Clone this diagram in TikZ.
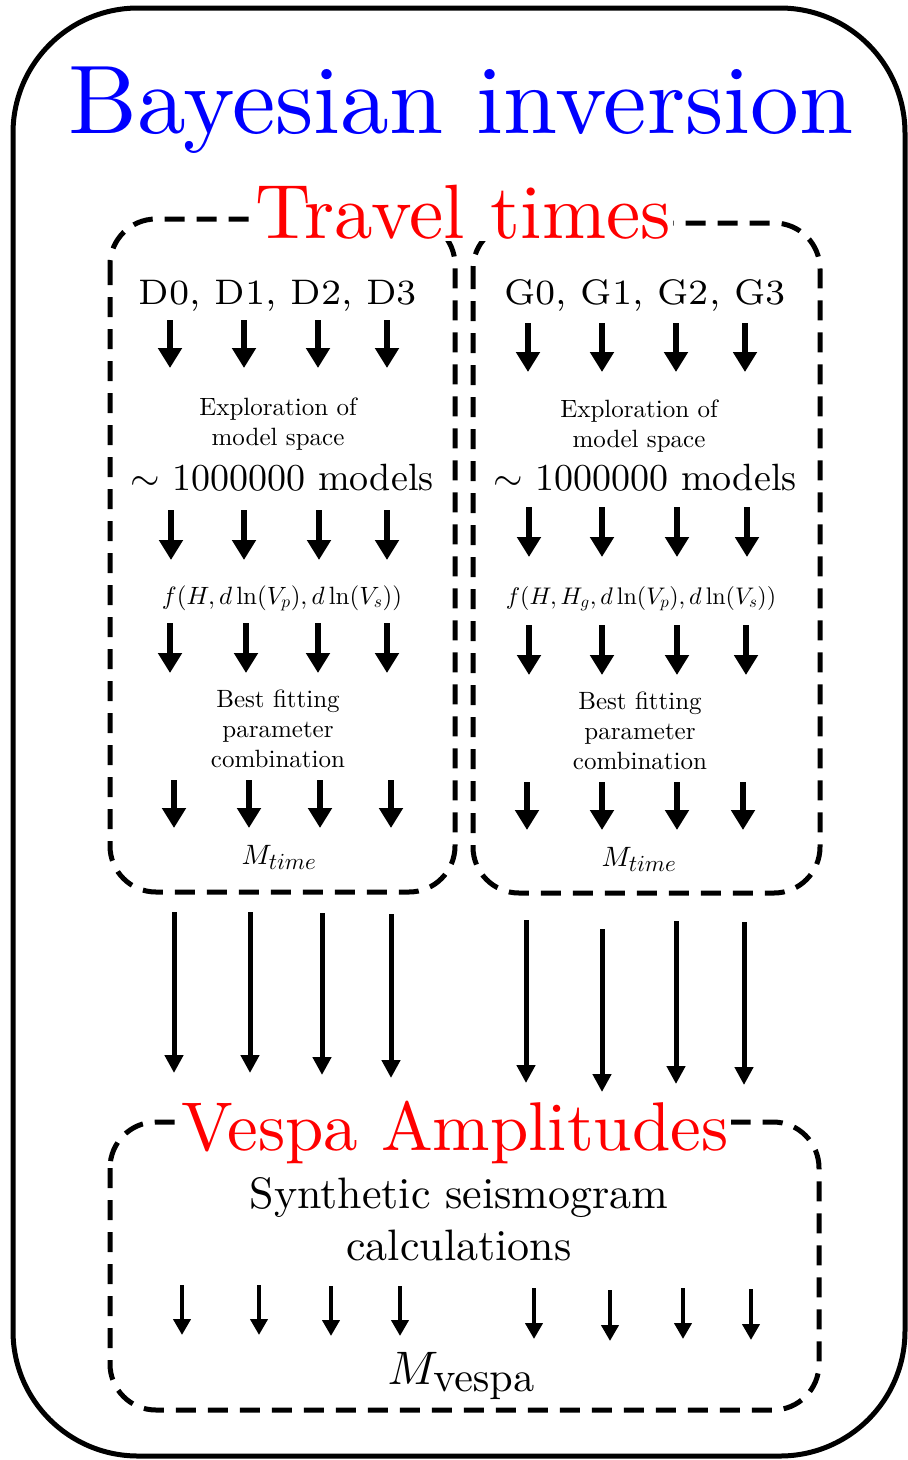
\documentclass[tikz,border=0pt]{standalone}
\usetikzlibrary{arrows.meta}
\DeclareFontFamily{TU}{lmten}{}
\DeclareFontShape{TU}{lmten}{m}{n}{<-> \UnicodeFontFile{lmroman10-regular}{\UnicodeFontTeXLigatures}}{}
\DeclareFontShape{TU}{lmten}{m}{it}{<-> \UnicodeFontFile{lmroman10-italic}{\UnicodeFontTeXLigatures}}{}
\DeclareFontFamily{TU}{lmseven}{}
\DeclareFontShape{TU}{lmseven}{m}{n}{<-> \UnicodeFontFile{lmroman7-regular}{\UnicodeFontTeXLigatures}}{}
\renewcommand\rmdefault{lmten}
\DeclareFontShape{OML}{cmm}{m}{it}{<-> cmmi10}{}
\DeclareFontShape{OMS}{cmsy}{m}{n}{<-> cmsy10}{}
\DeclareFontShape{OT1}{cmr}{m}{n}{<-> cmr10}{}
\DeclareFontShape{OMX}{cmex}{m}{n}{<-> cmex10}{}
\DeclareMathSizes{28}{28}{23}{19}
\DeclareMathSizes{47}{47}{42}{35}
\begin{document}
\begin{tikzpicture}[x=1pt,y=-1pt,
  outerbox/.style={line width=5pt, rounded corners=125pt},
  dbox/.style={line width=5pt, dash pattern=on 20pt off 12pt, rounded corners=46pt},
  sarr/.style={line width=6.5pt, -{Triangle[width=23pt,length=20pt]}},
  larr/.style={line width=5pt, -{Triangle[width=18pt,length=18pt]}},
  varr/.style={line width=4.5pt, -{Triangle[width=17pt,length=16pt]}},
  boxtitle/.style={fill=white, inner sep=2pt, text=red},
  small/.style={align=center, font=\fontsize{25}{30}\selectfont},
  mid/.style={font=\fontsize{38}{46}\selectfont},
  inputs/.style={font=\fontfamily{lmseven}\fontsize{35.5}{42}\selectfont},
  mtime/.style={font=\fontsize{28}{34}\selectfont},
]
\useasboundingbox (0,0) rectangle (908,1460);
\draw[outerbox] (13,8) rectangle (905,1456);
\draw[dbox] (110,219) rectangle (455,892);
\draw[dbox] (473,223) rectangle (820,893);
\draw[dbox] (110,1122) rectangle (819,1410);

\node[text=blue, anchor=base] (title) at (461,133) {\fontsize{97.5}{110}\selectfont Bayesian inversion};
\node[boxtitle, anchor=base] (tt) at (463,238) {\fontsize{77}{90}\selectfont Travel times};
\node[boxtitle, anchor=base] (va) at (455,1150) {\fontsize{69}{80}\selectfont Vespa Amplitudes};

% left column
\node[inputs, anchor=base] (dlist) at (278,304) {D0, D1, D2, D3};
\node[small] (lexp) at (278,424) {Exploration of\\model space};
\node[mid, anchor=base] (lmod) at (282,490) {$\sim$ 1000000 models};
\node[small, anchor=base] (lf) at (282,604) {$f(H,d\ln(V_p),d\ln(V_s))$};
\node[small] (lbest) at (278,729) {Best fitting\\parameter\\combination};
\node[mtime, anchor=base] (ltime) at (279,864) {$M_{time}$};

% right column
\node[inputs, anchor=base] (glist) at (645,304) {G0, G1, G2, G3};
\node[small] (rexp) at (639,426) {Exploration of\\model space};
\node[mid, anchor=base] (rmod) at (645,490) {$\sim$ 1000000 models};
\node[anchor=base, font=\fontsize{24}{29}\selectfont] (rf) at (641,604) {$f(H,H_g,d\ln(V_p),d\ln(V_s))$};
\node[small] (rbest) at (640,731) {Best fitting\\parameter\\combination};
\node[mtime, anchor=base] (rtime) at (639,866) {$M_{time}$};

% bottom box
\node[align=center, font=\fontsize{44}{52}\selectfont] (syn) at (459,1219) {Synthetic seismogram\\calculations};
\node[anchor=base, font=\fontsize{47}{54}\selectfont] (mv) at (461,1384) {$M_{\mathrm{vespa}}$};

% small arrows inside travel-time boxes
\foreach \x/\ya/\yb [count=\i] in {
  170/320/368, 244/320/368, 318/320/368, 387/320/368,
  171/510/560, 244/510/560, 319/510/560, 387/510/560,
  170/623/673, 246/623/673, 318/623/673, 387/623/673,
  174/780/828, 249/780/828, 320/780/828, 391/780/828,
  528/323/372, 602/323/372, 676/323/372, 745/323/372,
  529/507/557, 602/507/557, 677/507/557, 747/507/557,
  529/625/675, 602/625/675, 677/625/675, 746/625/675,
  527/782/830, 602/782/830, 677/782/830, 743/782/830}
{
  \coordinate (s\i) at (\x,\ya);
  \coordinate (e\i) at (\x,\yb);
  \draw[sarr] (s\i) -- (e\i);
}

% long arrows between the boxes
\foreach \x/\ya/\yb [count=\i] in {
  174/912/1073, 250/912/1073, 322/913/1075, 391/914/1078,
  526/920/1083, 602/929/1092, 676/921/1084, 744/922/1085}
{
  \coordinate (ls\i) at (\x,\ya);
  \coordinate (le\i) at (\x,\yb);
  \draw[larr] (ls\i) -- (le\i);
}

% arrows in vespa box
\foreach \x/\ya/\yb [count=\i] in {
  182/1285/1335, 259/1285/1335, 331/1286/1336, 400/1286/1336,
  534/1288/1339, 610/1290/1341, 683/1288/1339, 751/1289/1340}
{
  \coordinate (vs\i) at (\x,\ya);
  \coordinate (ve\i) at (\x,\yb);
  \draw[varr] (vs\i) -- (ve\i);
}
\end{tikzpicture}
\end{document}
